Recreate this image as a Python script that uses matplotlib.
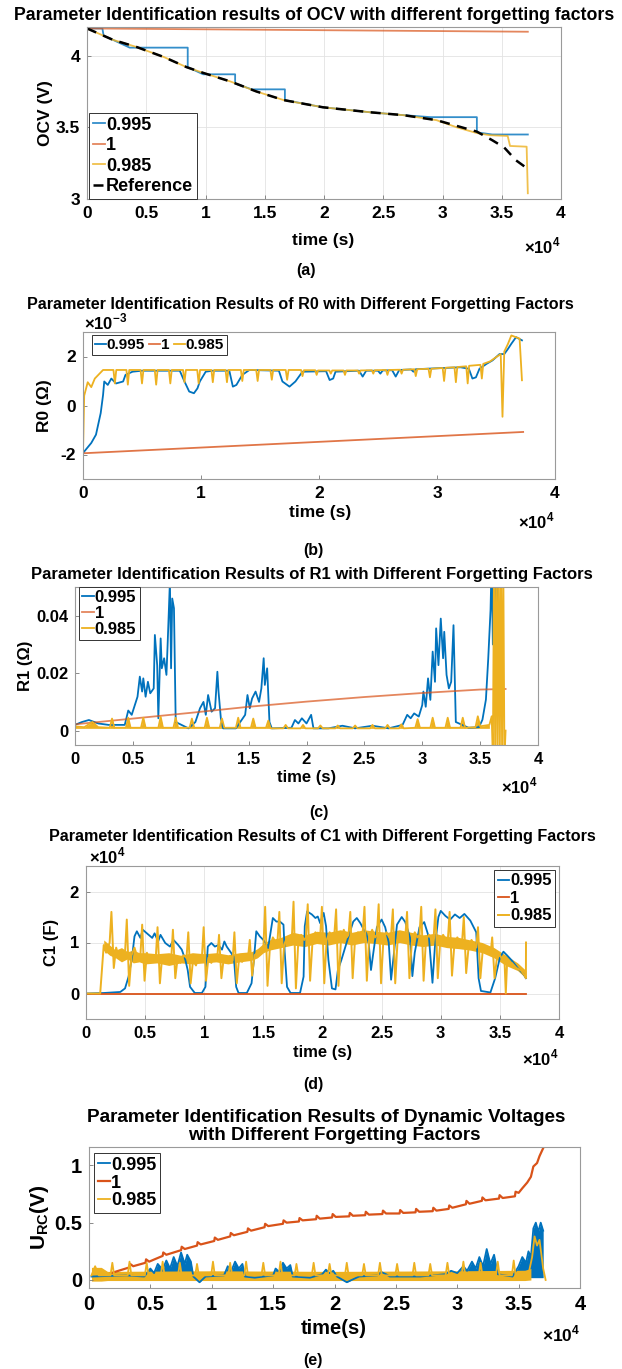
import matplotlib
matplotlib.use("Agg")
import matplotlib.pyplot as plt
import numpy as np
from matplotlib.ticker import FuncFormatter

plt.rcParams["font.family"] = ["Liberation Sans", "DejaVu Sans"]
plt.rcParams["font.weight"] = "bold"
plt.rcParams["mathtext.fontset"] = "custom"
plt.rcParams["mathtext.rm"] = "Liberation Sans"
plt.rcParams["mathtext.bf"] = "Liberation Sans:bold"

BLUE, ORANGE, YELLOW = "#0072BD", "#D95319", "#EDB120"
LABELS = ["0.995", "1", "0.985"]

### data (time in units of 1e4 s) ###
# (a) OCV
ocv_0995 = [(0, 4.19), (0.13, 4.19), (0.14, 4.14), (0.22, 4.11), (0.36, 4.056), (0.85, 4.056),
            (0.85, 3.92), (0.98, 3.87), (1.25, 3.87), (1.25, 3.806), (1.39, 3.765), (1.67, 3.765),
            (1.67, 3.69), (1.99, 3.64), (2.39, 3.605), (2.67, 3.585), (2.9, 3.571), (3.29, 3.571),
            (3.29, 3.465), (3.42, 3.45), (3.72, 3.45)]
ocv_1 = [(0, 4.19), (3.72, 4.167)]
ocv_0985 = [(0, 4.19), (0.22, 4.11), (0.42, 4.06), (0.65, 3.99), (0.84, 3.92), (0.98, 3.88),
            (1.21, 3.82), (1.43, 3.75), (1.66, 3.69), (1.99, 3.64), (2.39, 3.605), (2.67, 3.585),
            (2.95, 3.55), (3.12, 3.5), (3.29, 3.46), (3.4, 3.445), (3.55, 3.44), (3.57, 3.37),
            (3.71, 3.365), (3.72, 3.04)]
ocv_ref = [(0, 4.19), (0.22, 4.11), (0.42, 4.06), (0.65, 3.99), (0.84, 3.92), (0.98, 3.88),
           (1.21, 3.82), (1.43, 3.75), (1.66, 3.69), (1.99, 3.64), (2.39, 3.605), (2.67, 3.585),
           (2.95, 3.55), (3.12, 3.51), (3.29, 3.47), (3.42, 3.41), (3.52, 3.36), (3.62, 3.27),
           (3.72, 3.21)]

# (b) R0 (x1e-3 ohm)
r0_0995 = [(0, -1.94), (0.07, -1.53), (0.11, -1.19), (0.15, -0.31), (0.17, 0.43), (0.18, 0.98),
           (0.21, 0.84), (0.24, 1.1), (0.28, 0.9), (0.34, 0.98), (0.36, 1.25), (0.42, 1.38),
           (0.5, 1.42), (0.82, 1.42), (0.86, 0.98), (0.9, 0.57), (0.94, 0.5), (0.97, 0.7),
           (0.99, 0.98), (1.04, 1.38), (1.1, 1.42), (1.24, 1.42), (1.27, 0.77), (1.3, 0.84),
           (1.35, 1.25), (1.41, 1.45), (1.66, 1.42), (1.69, 0.98), (1.75, 0.77), (1.8, 0.98),
           (1.86, 1.38), (2.06, 1.4), (2.09, 1.04), (2.12, 1.1), (2.14, 1.38), (2.34, 1.42),
           (2.37, 1.18), (2.4, 1.42), (2.5, 1.42), (2.52, 1.3), (2.54, 1.43), (2.62, 1.44),
           (2.65, 1.18), (2.68, 1.45), (2.78, 1.47), (2.8, 1.38), (2.82, 1.48), (3.0, 1.52),
           (3.2, 1.56), (3.27, 1.5), (3.3, 1.1), (3.33, 1.15), (3.36, 1.5), (3.42, 1.7),
           (3.47, 1.84), (3.53, 2.1), (3.57, 2.1), (3.6, 2.3), (3.63, 2.52), (3.67, 2.79),
           (3.72, 2.66)]
r0_1 = [(0, -1.95), (3.73, -1.08)]
r0_0985 = [(0, -1.95), (0.01, 0.4), (0.04, 0.95), (0.07, 0.75), (0.1, 1.1), (0.14, 1.3),
           (0.17, 1.45), (0.258, 1.45), (0.27, 0.9), (0.282, 1.45), (0.368, 1.45), (0.38, 0.85),
           (0.392, 1.45), (0.488, 1.45), (0.5, 0.9), (0.512, 1.45), (0.608, 1.45), (0.62, 0.85),
           (0.632, 1.45), (0.728, 1.45), (0.74, 0.9), (0.752, 1.45), (0.848, 1.45), (0.86, 0.95),
           (0.872, 1.45), (0.968, 1.45), (0.98, 0.9), (0.992, 1.45), (1.088, 1.45), (1.1, 0.95),
           (1.112, 1.45), (1.208, 1.45), (1.22, 0.95), (1.232, 1.45), (1.338, 1.45), (1.35, 1.0),
           (1.362, 1.45), (1.468, 1.45), (1.48, 1.0), (1.492, 1.45), (1.588, 1.45), (1.6, 1.05),
           (1.612, 1.45), (1.718, 1.45), (1.73, 1.05), (1.742, 1.45), (1.848, 1.45), (1.86, 1.2),
           (1.872, 1.44), (1.968, 1.44), (1.98, 1.25), (1.992, 1.43), (2.088, 1.43), (2.1, 1.3),
           (2.112, 1.43), (2.208, 1.43), (2.22, 1.25), (2.232, 1.43), (2.328, 1.43), (2.34, 1.3),
           (2.352, 1.43), (2.448, 1.44), (2.46, 1.3), (2.472, 1.44), (2.568, 1.45), (2.58, 1.25),
           (2.592, 1.45), (2.688, 1.46), (2.7, 1.3), (2.712, 1.46), (2.808, 1.48), (2.82, 1.2),
           (2.832, 1.48), (2.928, 1.5), (2.94, 1.15), (2.952, 1.5), (3.048, 1.53), (3.06, 1.0),
           (3.072, 1.54), (3.148, 1.56), (3.16, 0.95), (3.172, 1.57), (3.248, 1.6), (3.26, 0.9),
           (3.272, 1.62), (3.368, 1.66), (3.38, 1.1), (3.392, 1.7), (3.45, 1.8), (3.5, 1.97),
           (3.54, 2.1), (3.555, -0.46), (3.57, 2.2), (3.6, 2.5), (3.63, 2.86), (3.7, 2.73),
           (3.72, 1.03)]

# (c) R1 (ohm)
r1_0995 = [(0, 0.002), (0.06, 0.003), (0.12, 0.0037), (0.2, 0.0025), (0.29, 0.002), (0.43, 0.002),
           (0.46, 0.007), (0.49, 0.0055), (0.54, 0.0118), (0.56, 0.0188), (0.58, 0.0136), (0.59, 0.0182),
           (0.61, 0.0118), (0.63, 0.017), (0.65, 0.013), (0.68, 0.0147), (0.69, 0.0333), (0.71, 0.0228),
           (0.72, 0.0043), (0.74, 0.0321), (0.75, 0.0217), (0.77, 0.0252), (0.79, 0.0194), (0.8, 0.0298),
           (0.82, 0.052), (0.83, 0.0217), (0.84, 0.046), (0.855, 0.0426), (0.87, 0.003), (0.98, 0.0008),
           (1.04, 0.003), (1.08, 0.0078), (1.11, 0.01), (1.13, 0.0055), (1.15, 0.0124), (1.18, 0.0066),
           (1.21, 0.0078), (1.23, 0.0205), (1.24, 0.0136), (1.26, 0.0043), (1.28, 0.0008), (1.39, 0.0008),
           (1.47, 0.0055), (1.49, 0.0124), (1.51, 0.0078), (1.53, 0.0112), (1.56, 0.0136), (1.59, 0.01),
           (1.61, 0.0147), (1.63, 0.0252), (1.64, 0.0159), (1.66, 0.0217), (1.68, 0.003), (1.7, 0.0008),
           (1.87, 0.001), (1.9, 0.0037), (1.93, 0.0025), (1.96, 0.0043), (2.0, 0.0025), (2.04, 0.0055),
           (2.06, 0.0008), (2.19, 0.0008), (2.31, 0.0017), (2.42, 0.0008), (2.57, 0.0017), (2.71, 0.0008),
           (2.83, 0.002), (2.87, 0.0055), (2.9, 0.0043), (2.93, 0.006), (2.97, 0.0049), (3.0, 0.0089),
           (3.01, 0.0136), (3.03, 0.0083), (3.05, 0.0182), (3.07, 0.0107), (3.09, 0.0275), (3.11, 0.017),
           (3.12, 0.0356), (3.14, 0.0228), (3.16, 0.039), (3.18, 0.0252), (3.19, 0.0344), (3.21, 0.0194),
           (3.23, 0.0147), (3.25, 0.017), (3.27, 0.0367), (3.29, 0.003), (3.4, 0.001), (3.49, 0.0012),
           (3.52, 0.0038), (3.55, 0.0108), (3.57, 0.025), (3.59, 0.042), (3.6, 0.06), (3.61, 0.03),
           (3.62, 0.06), (3.63, 0.035), (3.64, 0.06), (3.65, 0.04)]
r1_1 = [(0, 0.0022), (0.5, 0.0042), (1.0, 0.0062), (1.5, 0.0083), (2.0, 0.0101), (2.5, 0.0117),
        (3.0, 0.0131), (3.5, 0.0143), (3.72, 0.0145)]
r1_0985 = [(0, 0.0015), (0.08, 0.0012), (0.15, 0.003), (0.2, 0.0012), (0.3, 0.001), (0.32, 0.0042),
           (0.34, 0.001), (0.44, 0.001), (0.46, 0.0045), (0.48, 0.001), (0.57, 0.001), (0.59, 0.0045),
           (0.61, 0.001), (0.72, 0.001), (0.74, 0.0048), (0.76, 0.001), (0.85, 0.001), (0.87, 0.0045),
           (0.89, 0.001), (0.99, 0.001), (1.01, 0.0042), (1.03, 0.001), (1.12, 0.001), (1.14, 0.0045),
           (1.16, 0.001), (1.25, 0.001), (1.27, 0.0042), (1.29, 0.001), (1.39, 0.001), (1.41, 0.0045),
           (1.43, 0.001), (1.52, 0.001), (1.54, 0.0042), (1.56, 0.001), (1.65, 0.001), (1.67, 0.0035),
           (1.69, 0.0008), (1.8, 0.0008), (1.82, 0.002), (1.84, 0.0008), (1.95, 0.0008), (1.97, 0.002),
           (1.99, 0.0008), (2.1, 0.0008), (2.12, 0.0018), (2.14, 0.0008), (2.25, 0.0008), (2.27, 0.0018),
           (2.29, 0.0008), (2.4, 0.0008), (2.42, 0.0018), (2.44, 0.0008), (2.55, 0.0008), (2.57, 0.002),
           (2.59, 0.0008), (2.68, 0.0008), (2.7, 0.002), (2.72, 0.0008), (2.8, 0.0008), (2.82, 0.0022),
           (2.84, 0.0008), (2.94, 0.001), (2.96, 0.004), (2.98, 0.001), (3.07, 0.001), (3.09, 0.0045),
           (3.11, 0.001), (3.2, 0.001), (3.22, 0.0045), (3.24, 0.001), (3.33, 0.001), (3.35, 0.0045),
           (3.37, 0.001), (3.46, 0.0012), (3.48, 0.005), (3.5, 0.0015), (3.58, 0.002), (3.6, 0.005),
           (3.61, -0.01), (3.62, 0.06), (3.63, -0.01), (3.64, 0.06), (3.65, -0.01), (3.66, 0.06),
           (3.67, -0.01), (3.68, 0.06), (3.69, -0.01), (3.7, 0.06), (3.71, -0.01), (3.72, 0.0)]

# (d) C1 (x1e4 F)
c1_0995 = [(0, 0), (0.15, 0.01), (0.29, 0.03), (0.33, 0.1), (0.36, 0.33), (0.39, 0.72), (0.41, 1.12),
           (0.43, 1.22), (0.46, 1.09), (0.48, 1.25), (0.53, 1.15), (0.56, 1.09), (0.58, 1.18), (0.61, 1.02),
           (0.63, 1.15), (0.67, 0.99), (0.71, 0.92), (0.74, 1.05), (0.78, 0.95), (0.81, 0.86), (0.84, 0.66),
           (0.86, 0.46), (0.88, 0.13), (0.92, 0.01), (0.98, 0.01), (1.01, 0.13), (1.02, 0.53), (1.03, 0.92),
           (1.06, 0.99), (1.09, 0.92), (1.12, 0.95), (1.15, 0.86), (1.17, 1.02), (1.19, 0.92), (1.22, 0.82),
           (1.25, 0.72), (1.27, 0.13), (1.29, 0.01), (1.36, 0.01), (1.4, 0.2), (1.42, 0.66), (1.44, 1.22),
           (1.47, 1.12), (1.5, 1.05), (1.53, 0.95), (1.54, 0.89), (1.58, 1.48), (1.61, 1.41), (1.64, 1.41),
           (1.67, 1.35), (1.68, 0.82), (1.7, 0.13), (1.73, 0.01), (1.81, 0.01), (1.84, 0.33), (1.85, 1.32),
           (1.87, 1.61), (1.91, 1.55), (1.94, 1.48), (1.96, 1.51), (1.98, 1.38), (2.01, 1.58), (2.03, 1.32),
           (2.05, 0.66), (2.08, 0.1), (2.11, 0.08), (2.13, 0.46), (2.16, 0.66), (2.19, 0.89), (2.22, 1.12),
           (2.26, 1.41), (2.29, 1.48), (2.32, 1.38), (2.35, 1.25), (2.37, 1.18), (2.39, 1.0), (2.41, 0.46),
           (2.43, 0.8), (2.46, 1.3), (2.5, 1.45), (2.53, 1.3), (2.56, 1.0), (2.58, 0.27), (2.6, 0.7),
           (2.63, 1.35), (2.67, 1.5), (2.7, 1.4), (2.74, 1.1), (2.76, 0.34), (2.78, 0.8), (2.82, 1.3),
           (2.86, 1.4), (2.9, 1.1), (2.93, 0.21), (2.95, 0.9), (2.98, 1.5), (3.0, 1.62), (3.04, 1.52),
           (3.08, 1.45), (3.12, 1.55), (3.16, 1.48), (3.2, 1.56), (3.25, 1.43), (3.3, 1.2), (3.32, 0.3),
           (3.34, 0.05), (3.42, 0.02), (3.46, 0.3), (3.5, 0.7), (3.53, 0.82), (3.56, 0.75), (3.6, 0.65),
           (3.65, 0.5), (3.7, 0.38), (3.72, 0.3)]
c1_1 = [(0, 0.0), (3.72, 0.0)]
c1_0985_band_t = [0.15, 0.2, 0.25, 0.3, 0.35, 0.4, 0.45, 0.5, 0.6, 0.7, 0.8, 0.9, 1.0, 1.1, 1.2, 1.3,
                  1.4, 1.45, 1.5, 1.55, 1.65, 1.75, 1.85, 1.95, 2.05, 2.15, 2.25, 2.35, 2.45, 2.55,
                  2.65, 2.75, 2.85, 2.95, 3.05, 3.15, 3.25, 3.35, 3.45, 3.55, 3.65, 3.72]
c1_0985_band_lo = [0.85, 0.75, 0.7, 0.62, 0.68, 0.6, 0.62, 0.58, 0.6, 0.55, 0.6, 0.58, 0.6, 0.62, 0.58, 0.62,
                   0.65, 0.7, 0.8, 0.85, 0.9, 0.95, 0.92, 0.98, 0.95, 1.0, 0.95, 1.0, 0.98, 0.95,
                   1.0, 0.95, 0.92, 0.95, 0.9, 0.88, 0.85, 0.8, 0.7, 0.55, 0.45, 0.3]
c1_0985_band_hi = [1.05, 0.95, 0.85, 0.9, 0.82, 0.85, 0.8, 0.8, 0.78, 0.8, 0.75, 0.8, 0.78, 0.8, 0.76, 0.8,
                   0.82, 0.88, 0.98, 1.05, 1.1, 1.2, 1.15, 1.22, 1.2, 1.25, 1.2, 1.25, 1.22, 1.2,
                   1.25, 1.2, 1.15, 1.18, 1.12, 1.1, 1.05, 1.0, 0.9, 0.75, 0.6, 0.45]
c1_0985 = [(0, 0), (0.12, 0.0), (0.15, 0.95), (0.17, 0.8),
           (0.2, 1.0), (0.215, 1.6), (0.235, 0.5), (0.255, 0.9), (0.28, 0.7), (0.305, 0.85),
           (0.33, 0.8), (0.345, 1.45), (0.365, 0.15), (0.385, 0.75), (0.41, 0.9), (0.435, 0.7),
           (0.46, 0.75), (0.475, 1.35), (0.495, 0.25), (0.515, 0.8), (0.54, 0.6), (0.565, 0.75),
           (0.59, 0.7), (0.605, 1.3), (0.625, 0.2), (0.645, 0.75), (0.67, 0.6), (0.695, 0.7),
           (0.72, 0.65), (0.735, 1.25), (0.755, 0.3), (0.775, 0.7), (0.8, 0.6), (0.825, 0.75),
           (0.85, 0.7), (0.865, 1.2), (0.885, 0.2), (0.905, 0.65), (0.93, 0.55), (0.955, 0.75),
           (0.98, 0.7), (0.995, 1.3), (1.015, 0.25), (1.035, 0.7), (1.06, 0.6), (1.085, 0.75),
           (1.11, 0.7), (1.125, 1.15), (1.145, 0.3), (1.165, 0.7), (1.19, 0.6), (1.215, 0.72),
           (1.24, 0.65), (1.255, 1.2), (1.275, 0.2), (1.295, 0.7), (1.32, 0.62), (1.345, 0.72),
           (1.37, 0.7), (1.385, 1.05), (1.405, 0.35), (1.425, 0.75), (1.45, 0.8), (1.475, 0.85),
           (1.5, 0.9), (1.515, 1.7), (1.535, 0.15), (1.555, 0.9), (1.58, 1.1), (1.605, 1.0),
           (1.62, 1.05), (1.635, 1.6), (1.655, 0.2), (1.675, 0.95), (1.7, 1.1), (1.72, 1.0),
           (1.74, 1.05), (1.755, 1.8), (1.775, 0.1), (1.795, 1.0), (1.82, 1.15), (1.845, 1.05),
           (1.86, 1.1), (1.875, 1.75), (1.895, 0.25), (1.915, 1.0), (1.94, 1.2), (1.965, 1.05),
           (1.98, 1.1), (1.995, 1.7), (2.015, 0.2), (2.035, 1.05), (2.06, 1.2), (2.085, 1.1),
           (2.1, 1.15), (2.115, 1.65), (2.135, 0.15), (2.155, 1.0), (2.18, 1.25), (2.205, 1.1),
           (2.22, 1.15), (2.235, 1.6), (2.255, 0.3), (2.275, 1.05), (2.3, 1.2), (2.325, 1.1),
           (2.34, 1.2), (2.355, 1.7), (2.375, 0.25), (2.395, 1.1), (2.42, 1.25), (2.445, 1.1),
           (2.46, 1.15), (2.475, 1.75), (2.495, 0.2), (2.515, 1.05), (2.54, 1.2), (2.565, 1.1),
           (2.58, 1.15), (2.595, 1.65), (2.615, 0.2), (2.635, 1.05), (2.66, 1.2), (2.685, 1.1),
           (2.7, 1.1), (2.715, 1.6), (2.735, 0.3), (2.755, 1.0), (2.78, 1.2), (2.805, 1.1),
           (2.82, 1.15), (2.835, 1.7), (2.855, 0.25), (2.875, 1.05), (2.9, 1.15), (2.925, 1.05),
           (2.94, 1.1), (2.955, 1.65), (2.975, 0.3), (2.995, 1.0), (3.02, 1.15), (3.045, 1.05),
           (3.06, 1.05), (3.075, 1.6), (3.095, 0.35), (3.115, 0.95), (3.14, 1.1), (3.165, 1.0),
           (3.18, 1.0), (3.195, 1.5), (3.215, 0.4), (3.235, 0.9), (3.26, 1.05), (3.285, 0.95),
           (3.3, 0.9), (3.315, 1.3), (3.335, 0.3), (3.355, 0.85), (3.38, 0.9), (3.405, 0.8),
           (3.42, 0.75), (3.435, 1.1), (3.455, 0.3), (3.475, 0.7), (3.5, 0.75), (3.525, 0.65),
           (3.54, 0.6), (3.55, 0.0), (3.56, 0.55), (3.6, 0.6), (3.64, 0.5), (3.68, 0.45),
           (3.71, 0.35), (3.72, 0.3), (3.721, 1.0)]

# (e) dynamic voltage U_RC (V)
urc_0995 = [(0.02, 0.03), (0.3, 0.04), (0.45, 0.03), (0.5, 0.1), (0.53, 0.06), (0.56, 0.14), (0.6, 0.09),
            (0.63, 0.17), (0.66, 0.1), (0.69, 0.2), (0.72, 0.12), (0.75, 0.24), (0.78, 0.14), (0.8, 0.22),
            (0.83, 0.16), (0.85, 0.03), (0.9, -0.02), (0.95, 0.03), (1.1, 0.04), (1.13, 0.12), (1.16, 0.08),
            (1.19, 0.16), (1.22, 0.1), (1.25, 0.14), (1.27, 0.03), (1.35, 0.02), (1.5, 0.04), (1.52, 0.1),
            (1.55, 0.07), (1.58, 0.15), (1.61, 0.1), (1.64, 0.13), (1.66, 0.03), (1.8, 0.02), (1.9, 0.05),
            (1.93, 0.09), (1.96, 0.06), (1.99, 0.08), (2.02, 0.03), (2.1, -0.02), (2.2, 0.03), (2.35, 0.04),
            (2.38, 0.07), (2.42, 0.05), (2.45, 0.03), (2.7, 0.03), (2.9, 0.05), (2.95, 0.08), (3.0, 0.06),
            (3.05, 0.12), (3.08, 0.08), (3.12, 0.16), (3.15, 0.1), (3.18, 0.2), (3.21, 0.12), (3.24, 0.27),
            (3.27, 0.14), (3.3, 0.22), (3.33, 0.05), (3.45, 0.03), (3.5, 0.12), (3.53, 0.2), (3.56, 0.15),
            (3.58, 0.25), (3.6, 0.2), (3.62, 0.45), (3.64, 0.5), (3.66, 0.42), (3.68, 0.5), (3.7, 0.43)]
urc_1 = [(0.18, 0.06), (0.33, 0.11), (0.335, 0.14), (0.36, 0.12), (0.46, 0.15), (0.465, 0.18), (0.49, 0.16),
         (0.6, 0.21), (0.605, 0.24), (0.63, 0.22), (0.75, 0.26), (0.755, 0.29), (0.78, 0.27),
         (0.88, 0.3), (0.885, 0.33), (0.91, 0.31), (1.02, 0.34), (1.025, 0.37), (1.05, 0.35),
         (1.15, 0.38), (1.155, 0.41), (1.18, 0.39), (1.29, 0.42), (1.295, 0.45), (1.32, 0.43),
         (1.43, 0.46), (1.435, 0.49), (1.46, 0.47), (1.58, 0.49), (1.585, 0.52), (1.61, 0.5),
         (1.71, 0.51), (1.715, 0.54), (1.74, 0.52), (1.85, 0.53), (1.855, 0.56), (1.88, 0.535),
         (1.98, 0.545), (1.985, 0.575), (2.01, 0.55), (2.12, 0.555), (2.125, 0.585), (2.15, 0.56),
         (2.25, 0.565), (2.255, 0.595), (2.28, 0.57), (2.39, 0.575), (2.395, 0.605), (2.42, 0.58),
         (2.53, 0.58), (2.535, 0.61), (2.56, 0.585), (2.66, 0.59), (2.665, 0.62), (2.69, 0.595),
         (2.8, 0.6), (2.805, 0.63), (2.83, 0.605), (2.93, 0.62), (2.935, 0.65), (2.96, 0.63),
         (3.07, 0.66), (3.075, 0.69), (3.1, 0.665), (3.2, 0.69), (3.205, 0.72), (3.23, 0.695),
         (3.34, 0.71), (3.345, 0.74), (3.37, 0.715), (3.47, 0.73), (3.475, 0.77), (3.5, 0.76),
         (3.53, 0.8), (3.57, 0.85), (3.6, 0.9), (3.62, 0.99), (3.65, 1.02), (3.67, 1.08), (3.7, 1.15)]
urc_0985_band_t = [0.02, 0.1, 0.15, 1.0, 2.0, 3.0, 3.55, 3.6]
urc_0985_band_lo = [-0.01, -0.01, -0.005, -0.005, -0.005, -0.005, -0.005, 0.0]
urc_0985_band_hi = [0.11, 0.11, 0.075, 0.08, 0.075, 0.08, 0.085, 0.1]
urc_0985 = [(0.02, 0.04), (0.05, 0.12), (0.08, 0.04), (0.175, 0.04), (0.19, 0.15), (0.205, 0.04),
            (0.315, 0.04), (0.33, 0.16), (0.345, 0.04), (0.455, 0.04), (0.47, 0.15), (0.485, 0.04),
            (0.585, 0.04), (0.6, 0.16), (0.615, 0.04), (0.725, 0.04), (0.74, 0.15), (0.755, 0.04),
            (0.865, 0.04), (0.88, 0.14), (0.895, 0.04), (0.995, 0.04), (1.01, 0.16), (1.025, 0.04),
            (1.135, 0.04), (1.15, 0.15), (1.165, 0.04), (1.265, 0.04), (1.28, 0.16), (1.295, 0.04),
            (1.405, 0.04), (1.42, 0.15), (1.435, 0.04), (1.545, 0.04), (1.56, 0.16), (1.575, 0.04),
            (1.675, 0.04), (1.69, 0.14), (1.705, 0.04), (1.815, 0.04), (1.83, 0.15), (1.845, 0.04),
            (1.945, 0.04), (1.96, 0.14), (1.975, 0.04), (2.085, 0.04), (2.1, 0.15), (2.115, 0.04),
            (2.225, 0.04), (2.24, 0.14), (2.255, 0.04), (2.355, 0.04), (2.37, 0.15), (2.385, 0.04),
            (2.495, 0.04), (2.51, 0.14), (2.525, 0.04), (2.635, 0.04), (2.65, 0.15), (2.665, 0.04),
            (2.765, 0.04), (2.78, 0.14), (2.795, 0.04), (2.905, 0.04), (2.92, 0.15), (2.935, 0.04),
            (3.035, 0.04), (3.05, 0.16), (3.065, 0.04), (3.175, 0.04), (3.19, 0.15), (3.205, 0.04),
            (3.315, 0.04), (3.33, 0.16), (3.345, 0.04), (3.445, 0.04), (3.46, 0.17), (3.475, 0.04),
            (3.58, 0.05), (3.61, 0.2), (3.63, 0.38), (3.65, 0.3), (3.67, 0.35), (3.7, 0.1), (3.72, 0.0)]

### layout helpers (pixel coordinates of the 622x1369 image) ###
W, H = 622, 1369
fig = plt.figure(figsize=(W / 100, H / 100), dpi=100)


def add_ax(l, t, r, b):
    return fig.add_axes([l / W, 1 - b / H, (r - l) / W, (b - t) / H])


def put(x, y, s, **kw):
    kw.setdefault("ha", "center")
    kw.setdefault("va", "center")
    kw.setdefault("fontweight", "bold")
    fig.text(x / W, 1 - y / H, s, **kw)


def xy(pairs):
    a = np.array(pairs, dtype=float)
    return a[:, 0], a[:, 1]


def style(ax, xticks, yticks, xlim, ylim, size, grid=False):
    ax.set_xlim(*xlim)
    ax.set_ylim(*ylim)
    ax.set_xticks(xticks)
    ax.set_yticks(yticks)
    fmt = FuncFormatter(lambda v, p: "{:g}".format(round(v, 6)))
    ax.xaxis.set_major_formatter(fmt)
    ax.yaxis.set_major_formatter(fmt)
    ax.tick_params(direction="in", length=3, width=0.6, color="#777777", labelsize=size, pad=5)
    for s in ax.spines.values():
        s.set_color("#9a9a9a")
        s.set_linewidth(0.8)
    if grid:
        ax.grid(True, color="#e3e3e3", linewidth=0.6)
        ax.set_axisbelow(True)
    for lab in ax.get_xticklabels() + ax.get_yticklabels():
        lab.set_fontweight("bold")


def legend(ax, x, y, loc, size, ncol=1, spacing=0.05):
    leg = ax.legend(loc=loc, bbox_to_anchor=(x / W, 1 - y / H), bbox_transform=fig.transFigure,
                    ncol=ncol, handlelength=0.7, handletextpad=0.05,
                    borderpad=0.2, labelspacing=spacing, columnspacing=0.3, borderaxespad=0,
                    fancybox=False, framealpha=1, edgecolor="#333333", prop={"weight": "bold", "size": size})
    leg.get_frame().set_linewidth(0.7)
    return leg


lw = 1.3

# ---------- (a) ----------
ax = add_ax(87, 27, 561, 199)
ax.plot(*xy(ocv_0995), color=BLUE, lw=lw, label=LABELS[0], alpha=0.8)
ax.plot(*xy(ocv_1), color=ORANGE, lw=lw, label=LABELS[1], alpha=0.7)
ax.plot(*xy(ocv_0985), color=YELLOW, lw=lw, label=LABELS[2], alpha=0.8)
ax.plot(*xy(ocv_ref), color="black", lw=1.8, ls=(0, (4, 3)), label="Reference")
style(ax, np.arange(0, 4.01, 0.5), [3, 3.5, 4], (0, 4), (3, 4.2), 12.5, grid=True)
legend(ax, 89, 199, "lower left", 13, spacing=0.2)
ax.set_ylabel("OCV (V)", fontsize=12.5, fontweight="bold", labelpad=2)
put(314, 16, "Parameter Identification results of OCV with different forgetting factors", fontsize=12.8)
put(323, 240, "time (s)", fontsize=12.5)
put(561, 246, r"$\times$10$^{4}$", ha="right", fontsize=12)
put(306, 270, "(a)", fontsize=11.5)

# ---------- (b) ----------
ax = add_ax(83, 332, 555, 479)
ax.plot(*xy(r0_0995), color=BLUE, lw=lw, label=LABELS[0])
ax.plot(*xy(r0_1), color=ORANGE, lw=lw, label=LABELS[1], alpha=0.8)
ax.plot(*xy(r0_0985), color=YELLOW, lw=lw, label=LABELS[2])
style(ax, [0, 1, 2, 3, 4], [-2, 0, 2], (0, 4), (-3, 3), 12.5)
legend(ax, 92, 335, "upper left", 11, ncol=3)
ax.set_ylabel("R0 (\u03a9)", fontsize=12.5, fontweight="bold", labelpad=6)
put(300, 304, "Parameter Identification Results of R0 with Different Forgetting Factors", fontsize=11.6)
put(84, 322, r"$\times$10$^{-3}$", ha="left", fontsize=12)
put(320, 512, "time (s)", fontsize=12.5)
put(555, 521, r"$\times$10$^{4}$", ha="right", fontsize=12)
put(313, 550, "(b)", fontsize=11.5)

# ---------- (c) ----------
ax = add_ax(75, 587, 538, 745)
ax.plot(*xy(r1_0995), color=BLUE, lw=lw, label=LABELS[0])
ax.plot(*xy(r1_1), color=ORANGE, lw=lw, label=LABELS[1], alpha=0.7)
t, v = xy(r1_0985)
ax.fill_between(t, 0.0008, v, where=t < 3.59, color=YELLOW, lw=0)
ax.plot(t, v, color=YELLOW, lw=lw, label=LABELS[2])
style(ax, np.arange(0, 4.01, 0.5), [0, 0.02, 0.04], (0, 4), (-0.005, 0.05), 12)
legend(ax, 79, 587, "upper left", 12)
ax.set_ylabel("R1 (\u03a9)", fontsize=12, fontweight="bold", labelpad=2)
put(312, 575, "Parameter Identification Results of R1 with Different Forgetting Factors", fontsize=12)
put(307, 778, "time (s)", fontsize=12)
put(538, 786, r"$\times$10$^{4}$", ha="right", fontsize=12)
put(319, 812, "(c)", fontsize=11.5)

# ---------- (d) ----------
ax = add_ax(86, 866, 559, 1019)
ax.plot(*xy(c1_0995), color=BLUE, lw=lw, label=LABELS[0])
ax.plot(*xy(c1_1), color=ORANGE, lw=lw, label=LABELS[1])
ax.fill_between(c1_0985_band_t, c1_0985_band_lo, c1_0985_band_hi, color=YELLOW, lw=0)
ax.plot(*xy(c1_0985), color=YELLOW, lw=1.4, label=LABELS[2])
style(ax, np.arange(0, 4.01, 0.5), [0, 1, 2], (0, 4), (-0.5, 2.5), 12, grid=True)
legend(ax, 555, 870, "upper right", 12, spacing=0.15)
ax.set_ylabel("C1 (F)", fontsize=12, fontweight="bold", labelpad=8)
put(322, 837, "Parameter Identification Results of C1 with Different Forgetting Factors", fontsize=11.6)
put(89, 856, r"$\times$10$^{4}$", ha="left", fontsize=12)
put(323, 1053, "time (s)", fontsize=12)
put(559, 1058, r"$\times$10$^{4}$", ha="right", fontsize=12)
put(313, 1085, "(d)", fontsize=11.5)

# ---------- (e) ----------
ax = add_ax(89, 1147, 580, 1288)
t, v = xy(urc_0995)
ax.fill_between(t, 0.02, v, color=BLUE, lw=0)
ax.plot(t, v, color=BLUE, lw=lw, label=LABELS[0])
ax.plot(*xy(urc_1), color=ORANGE, lw=1.6, label=LABELS[1])
ax.fill_between(urc_0985_band_t, urc_0985_band_lo, urc_0985_band_hi, color=YELLOW, lw=0)
ax.plot(*xy(urc_0985), color=YELLOW, lw=lw, label=LABELS[2])
style(ax, np.arange(0, 4.01, 0.5), [0, 0.5, 1], (0, 4), (-0.07, 1.16), 14.5)
legend(ax, 94, 1153, "upper left", 13)
ax.set_ylabel(r"U$_{\mathbf{RC}}$(V)", fontsize=15, fontweight="bold", labelpad=2)
put(326, 1117, "Parameter Identification Results of Dynamic Voltages", fontsize=13.6)
put(334, 1135, "with Different Forgetting Factors", fontsize=13.6)
put(334, 1328, "time(s)", fontsize=14.5)
put(580, 1334, r"$\times$10$^{4}$", ha="right", fontsize=12.5)
put(313, 1360, "(e)", fontsize=11.5)

fig.savefig("out.png", dpi=100)
